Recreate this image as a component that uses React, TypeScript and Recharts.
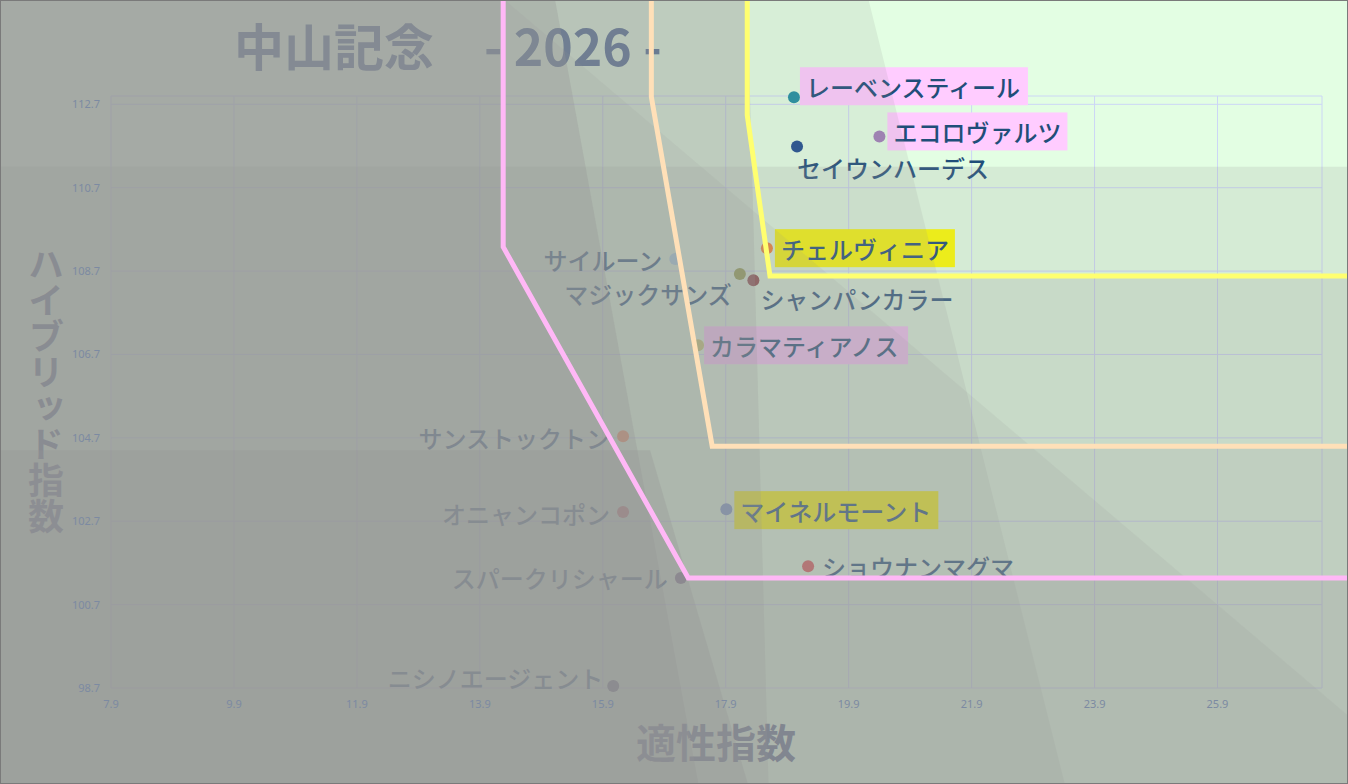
import React from 'react';
import { ComposedChart, Scatter, XAxis, YAxis, CartesianGrid } from 'recharts';

// horses: name, 適性指数 (x), ハイブリッド指数 (y)
const horseNames = [
  'レーベンスティール', 'エコロヴァルツ', 'セイウンハーデス', 'チェルヴィニア',
  'サイルーン', 'マジックサンズ', 'シャンパンカラー', 'カラマティアノス',
  'サンストックトン', 'オニャンコポン', 'マイネルモーント', 'ショウナンマグマ',
  'スパークリシャール', 'ニシノエージェント',
];
const tekiseiValues = [19.01, 20.4, 19.06, 18.57, 17.08, 18.13, 18.35, 17.45, 16.23, 16.23, 17.91, 19.24, 17.17, 16.07];
const hybridValues = [112.87, 111.93, 111.69, 109.25, 108.99, 108.63, 108.48, 106.92, 104.74, 102.92, 102.99, 101.62, 101.34, 98.75];

const xTicks = [7.9, 9.9, 11.9, 13.9, 15.9, 17.9, 19.9, 21.9, 23.9, 25.9];
const yTicks = [98.7, 100.7, 102.7, 104.7, 106.7, 108.7, 110.7, 112.7];

// border lines (x, y)
const pinkLine = [{ x: 14.28, y: 115.4 }, { x: 14.28, y: 109.28 }, { x: 17.29, y: 101.34 }, { x: 28.2, y: 101.34 }];
const orangeLine = [{ x: 16.69, y: 115.4 }, { x: 16.69, y: 112.88 }, { x: 17.68, y: 104.5 }, { x: 28.2, y: 104.5 }];
const yellowLine = [{ x: 18.25, y: 115.4 }, { x: 18.25, y: 112.44 }, { x: 18.62, y: 108.58 }, { x: 28.2, y: 108.58 }];

// styling per horse
const dotColors = ['#1e8fa0', '#a07fb8', '#1f4e8f', '#ff7f27', '#a8d8f0', '#8fa040', '#8b3a3a', '#c8c870', '#ff8c50', '#d05050', '#7090c8', '#e05050', '#6a5a7a', '#505070'];
const labelBoxes = ['#ffccff', '#ffccff', null, '#ffff00', null, null, null, '#ffccff', null, null, '#ffff00', null, null, null];
const labelPlace = [
  { a: 'start', dx: 12, dy: -11 }, { a: 'start', dx: 14, dy: -5 }, { a: 'start', dx: 0, dy: 21 },
  { a: 'start', dx: 14, dy: 0 }, { a: 'end', dx: -13, dy: 0 }, { a: 'end', dx: -8, dy: 19 },
  { a: 'start', dx: 7, dy: 18 }, { a: 'start', dx: 12, dy: 0 }, { a: 'end', dx: -13, dy: 1 },
  { a: 'end', dx: -13, dy: 1 }, { a: 'start', dx: 14, dy: 1 }, { a: 'start', dx: 14, dy: 0 },
  { a: 'end', dx: -13, dy: 0 }, { a: 'end', dx: -10, dy: -8 },
];

const horses = horseNames.map((name, i) => ({
  name, x: tekiseiValues[i], y: hybridValues[i], color: dotColors[i], box: labelBoxes[i], place: labelPlace[i],
}));

// translucent shading layers, drawn over the marks
const L = 6.0, R = 28.2, T = 115.4, B = 96.2;
const shades = [
  { a: 0.15, pts: [[L, T], [20.19, T], [23.45, B], [L, B]] },
  { a: 0.18, pts: [[L, 111.2], [R, 111.2], [R, B], [L, B]] },
  { a: 0.2, pts: [[L, T], [18.25, T], [18.25, 112.44], [18.62, 108.58], [R, 108.58], [R, B], [L, B]] },
  { a: 0.15, pts: [[L, T], [16.69, T], [16.69, 112.88], [17.68, 104.5], [R, 104.5], [R, B], [L, B]] },
  { a: 0.25, pts: [[L, T], [14.28, T], [14.28, 109.28], [17.29, 101.34], [R, 101.34], [R, B], [L, B]] },
  { a: 0.12, pts: [[L, T], [14.15, T], [R, 97.82], [R, B], [L, B]] },
  { a: 0.22, pts: [[L, T], [18.25, T], [18.6, B], [L, B]] },
  { a: 0.3, pts: [[L, T], [15.1, T], [17.48, B], [L, B]] },
  { a: 0.3, pts: [[L, 104.4], [16.67, 104.4], [18.3, B], [L, B]] },
];

const FONT = '"Noto Sans CJK JP", "Noto Sans", sans-serif';
const GRAY = '#969696';

const HorseShape = (props: any) => {
  const { cx, cy, payload } = props;
  const p = payload.place;
  const tx = cx + p.dx;
  const ty = cy + p.dy;
  const w = payload.name.length * 24;
  const left = p.a === 'end' ? tx - w : tx;
  return (
    <g>
      <circle cx={cx} cy={cy} r={6} fill={payload.color} />
      {payload.box && <rect x={left - 6} y={ty - 19} width={w + 12} height={38} fill={payload.box} />}
      <text x={tx} y={ty} textAnchor={p.a} dominantBaseline="central" fontSize={24} fontWeight={500} fill="#1f4e79" fontFamily={FONT}>
        {payload.name}
      </text>
    </g>
  );
};

const polygonOf = (opacity: number) => (props: any) => (
  <polygon points={props.points.map((q: any) => `${q.x},${q.y}`).join(' ')} fill={GRAY} fillOpacity={opacity} stroke="none" />
);

const polylineOf = (color: string) => (props: any) => (
  <polyline points={props.points.map((q: any) => `${q.x},${q.y}`).join(' ')} fill="none" stroke={color} strokeWidth={5} strokeLinejoin="miter" />
);

const noDot = () => <g />;

export default function App() {
  return (
    <div style={{ position: 'relative', width: 1348, height: 784, background: '#e3fee3', overflow: 'hidden' }}>
      <style>{'body{margin:0} .free{clip-path:none !important}'}</style>
      <div style={{ position: 'absolute', left: 234, top: 12, fontFamily: FONT, fontWeight: 700, fontSize: 50, lineHeight: '64px', color: '#456590', whiteSpace: 'pre' }}>
        中山記念　- 2026 -
      </div>
      <div style={{ position: 'absolute', left: 0, width: 1348, top: 714, textAlign: 'center', paddingLeft: 84, boxSizing: 'border-box', fontFamily: FONT, fontWeight: 700, fontSize: 40, lineHeight: '54px', color: '#5a6a88' }}>
        適性指数
      </div>
      <div style={{ position: 'absolute', left: 26, top: 246, writingMode: 'vertical-rl', textOrientation: 'upright', fontFamily: FONT, fontWeight: 700, fontSize: 36, lineHeight: '40px', letterSpacing: 0, color: '#5a6a88' }}>
        ハイブリッド指数
      </div>
      <div style={{ position: 'absolute', left: 0, top: 0 }}>
        <ComposedChart width={1348} height={784} margin={{ top: 96, right: 26, bottom: 66, left: 51 }}>
          <CartesianGrid stroke="#ccd6f6" strokeWidth={1} />
          <XAxis
            type="number"
            dataKey="x"
            domain={[7.9, 27.6]}
            allowDataOverflow
            ticks={xTicks}
            interval={0}
            axisLine={false}
            tickLine={false}
            height={30}
            tickMargin={6}
            tickFormatter={(v: number) => v.toFixed(1)}
            tick={{ fill: '#7c8aa2', fontSize: 11, fontFamily: '"Noto Sans", sans-serif' }}
          />
          <YAxis
            type="number"
            dataKey="y"
            domain={[98.7, 112.9]}
            allowDataOverflow
            ticks={yTicks}
            interval={0}
            axisLine={false}
            tickLine={false}
            width={60}
            tickMargin={5}
            tickFormatter={(v: number) => v.toFixed(1)}
            tick={{ fill: '#7c8aa2', fontSize: 11, fontFamily: '"Noto Sans", sans-serif' }}
          />
          <Scatter data={horses} shape={HorseShape} isAnimationActive={false} className="free" />
          {shades.map((s, i) => (
            <Scatter
              key={'shade' + i}
              data={s.pts.map(([x, y]) => ({ x, y }))}
              line={polygonOf(s.a)}
              shape={noDot}
              isAnimationActive={false}
              className="free"
            />
          ))}
          <Scatter data={pinkLine} line={polylineOf('#ffb8f6')} shape={noDot} isAnimationActive={false} className="free" />
          <Scatter data={orangeLine} line={polylineOf('#ffe0b8')} shape={noDot} isAnimationActive={false} className="free" />
          <Scatter data={yellowLine} line={polylineOf('#ffff70')} shape={noDot} isAnimationActive={false} className="free" />
        </ComposedChart>
      </div>
      <div style={{ position: 'absolute', inset: 0, border: '1px solid #7a7a7a', pointerEvents: 'none' }} />
    </div>
  );
}
